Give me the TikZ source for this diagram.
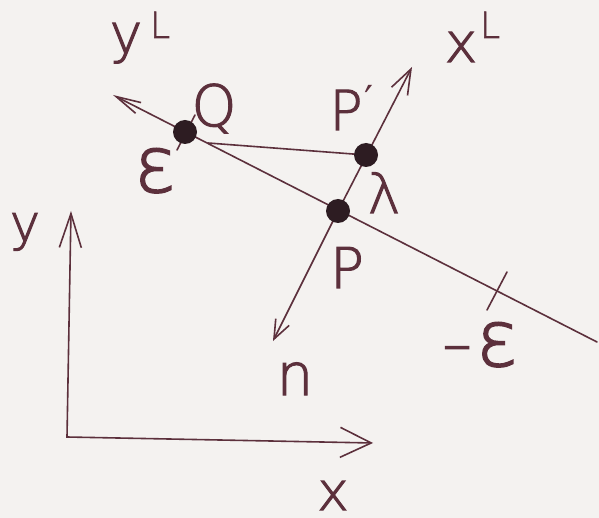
\documentclass[tikz,border=0pt]{standalone}
\usepackage{fontspec}
\setmainfont{DejaVu Sans ExtraLight}[FakeBold=2]
\newfontfamily\primefont{DejaVu Sans}
\usetikzlibrary{arrows.meta}
\definecolor{ink}{RGB}{92,48,60}
\definecolor{dotink}{RGB}{45,28,34}
\definecolor{paper}{RGB}{244,242,240}
\tikzset{
  ln/.style={draw=ink, line width=1.6pt, line cap=round},
  dotnode/.style={circle, fill=dotink, minimum size=24pt, inner sep=0pt},
  lab/.style={text=ink, anchor=base, inner sep=0pt, font=\fontsize{55}{60}\selectfont},
  suplab/.style={lab, font=\fontsize{36}{40}\selectfont},
  epslab/.style={lab, font=\fontsize{78}{80}\selectfont},
}
\begin{document}
\begin{tikzpicture}[x=1pt,y=-1pt]
\fill[paper] (0,0) rectangle (599,518);
\useasboundingbox (0,0) rectangle (599,518);
% coordinates
\coordinate (O) at (67,437);
\coordinate (ytip) at (71,211);
\coordinate (xtip) at (373,443);
\coordinate (cQ) at (185,132);
\coordinate (cP) at (338,211);
\coordinate (cPp) at (366,155);
\coordinate (Qm) at (208,143);
\coordinate (yLtip) at (113,95);
\coordinate (yLend) at (597,342);
\coordinate (xLtip) at (412,67);
\coordinate (ntip) at (273,341);
\coordinate (tQa) at (195,115);
\coordinate (tQb) at (177,150);
\coordinate (tEa) at (507,272);
\coordinate (tEb) at (487,310);
% axes
\draw[ln, {Straight Barb[length=34pt,width=22pt]}-{Straight Barb[length=31pt,width=30pt]}] (ytip) -- (O) -- (xtip);
% local axes
\draw[ln, -{Straight Barb[length=25pt,width=12pt]}] (yLend) -- (yLtip);
\draw[ln, -{Straight Barb[length=25pt,width=18pt]}] (cP) -- (xLtip);
\draw[ln, -{Straight Barb[length=19pt,width=15pt]}] (cP) -- (ntip);
\draw[ln] (cPp) -- (Qm);
\draw[ln] (tQa) -- (tQb);
\draw[ln] (tEa) -- (tEb);
% dots
\node[dotnode] (Q) at (cQ) {};
\node[dotnode] (P) at (cP) {};
\node[dotnode] (Pp) at (cPp) {};
% labels
\node[lab] (yLy) at (126,53) {y};
\node[suplab] (yLL) at (160,38) {L};
\node[lab] (xLx) at (461,62) {x};
\node[suplab] (xLL) at (490,38) {L};
\node[lab, font=\fontsize{57}{60}\selectfont] (Qlab) at (214,126) {Q};
\node[lab] (Pplab) at (346,130) {P};
\node[lab, anchor=center, font=\primefont\fontsize{40}{40}\selectfont] (prime) at (369,100) {′};
\node[lab] (lam) at (384,213) {λ};
\node[lab, font=\fontsize{56}{60}\selectfont] (Plab) at (347,288) {P};
\node[lab, font=\fontsize{58}{60}\selectfont] (nlab) at (295,395) {n};
\node[epslab] (epsQ) at (155,192) {ε};
\node[lab, anchor=center, font=\fontsize{58}{58}\selectfont] (minus) at (457,355) {–};
\node[epslab] (epsE) at (497,366) {ε};
\node[lab, font=\fontsize{51}{55}\selectfont] (ylab) at (25,241) {y};
\node[lab, font=\fontsize{53}{55}\selectfont] (xlab) at (333,510) {x};
\end{tikzpicture}
\end{document}
